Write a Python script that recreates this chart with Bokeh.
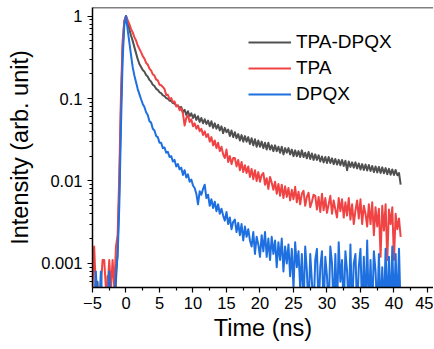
from bokeh.plotting import figure
from bokeh.models import (Range1d, FixedTicker, CustomJSTickFormatter, Legend,
                          LegendItem, Span)
from bokeh.embed import file_html
from bokeh.resources import INLINE

# time channels (ns), 0.25 ns spacing from -5 to 41
time_ns = [round(-5 + 0.25 * i, 2) for i in range(185)]

tpa_dpqx = [
    0.0002, 0.0002, 0.0002, 0.0006, 0.0002, 0.0002, 0.0005, 0.0002, 0.0002, 0.0007,
    0.0002, 0.0006, 0.0002, 0.0002, 0.0006, 0.0015, 0.008, 0.08, 0.42, 0.85,
    1.0,
    0.85, 0.69, 0.58, 0.50, 0.42, 0.355, 0.30, 0.262,
    0.241, 0.222, 0.212, 0.193, 0.184, 0.168, 0.160, 0.147,
    0.142, 0.131, 0.127, 0.119, 0.116, 0.109, 0.107, 0.101,
    0.0995, 0.094, 0.0935, 0.0880, 0.0870, 0.0820, 0.0812, 0.0768,
    0.079, 0.068, 0.073, 0.063, 0.070, 0.061, 0.066, 0.058,
    0.064, 0.055, 0.061, 0.052, 0.058, 0.050, 0.056, 0.049,
    0.054, 0.046, 0.053, 0.044, 0.050, 0.043, 0.048, 0.041,
    0.046, 0.038, 0.044, 0.039, 0.042, 0.035, 0.041, 0.034,
    0.039, 0.033, 0.037, 0.031, 0.036, 0.030, 0.035, 0.030,
    0.034, 0.028, 0.033, 0.027, 0.032, 0.026, 0.031, 0.026,
    0.030, 0.025, 0.029, 0.024, 0.029, 0.024, 0.027, 0.023,
    0.027, 0.023, 0.026, 0.022, 0.026, 0.021, 0.025, 0.022,
    0.025, 0.021, 0.024, 0.020, 0.0235, 0.020, 0.023, 0.0195,
    0.0235, 0.0195, 0.022, 0.0188, 0.0225, 0.0185, 0.0215, 0.018,
    0.021, 0.018, 0.0205, 0.0172, 0.0198, 0.0168, 0.0195, 0.0165,
    0.0195, 0.0165, 0.0188, 0.016, 0.0185, 0.0158, 0.018, 0.0155,
    0.018, 0.0152, 0.0176, 0.0135, 0.0172, 0.0148, 0.0168, 0.0145,
    0.0168, 0.0142, 0.0163, 0.0138, 0.016, 0.0136, 0.0158, 0.0134,
    0.0156, 0.0132, 0.0152, 0.0128, 0.015, 0.0127, 0.0148, 0.0125,
    0.0146, 0.0124, 0.0143, 0.0121, 0.014, 0.0119, 0.0138, 0.0118,
    0.0136, 0.0117, 0.0125, 0.0090,
]

tpa = [
    0.0005, 0.0016, 0.0005, 0.0005, 0.0005, 0.0005, 0.0011, 0.0011, 0.0005, 0.0005,
    0.0011, 0.0005, 0.0011, 0.0005, 0.0016, 0.0022, 0.012, 0.11, 0.5, 0.88,
    1.0,
    0.89, 0.80, 0.70, 0.635, 0.555, 0.505, 0.44, 0.40,
    0.365, 0.326, 0.305, 0.270, 0.258, 0.230, 0.219, 0.196,
    0.190, 0.170, 0.166, 0.147, 0.145, 0.138, 0.130, 0.110,
    0.111, 0.098, 0.101, 0.090, 0.092, 0.080, 0.083, 0.072,
    0.076, 0.066, 0.047, 0.058, 0.063, 0.052, 0.056, 0.046,
    0.050, 0.043, 0.047, 0.040, 0.043, 0.036, 0.040, 0.034,
    0.037, 0.030, 0.034, 0.027, 0.031, 0.025, 0.029, 0.023,
    0.026, 0.021, 0.019, 0.024, 0.017, 0.020, 0.016, 0.019,
    0.019, 0.015, 0.018, 0.0135, 0.017, 0.0128, 0.0155, 0.0125,
    0.0150, 0.0112, 0.0140, 0.0105, 0.0135, 0.0100, 0.0128, 0.0098,
    0.0118, 0.0125, 0.0090, 0.0108, 0.0080, 0.0112, 0.0095, 0.0078,
    0.0098, 0.0070, 0.0092, 0.0066, 0.0090, 0.0062, 0.0086, 0.0064,
    0.0082, 0.0058, 0.0078, 0.0060, 0.0085, 0.0055, 0.0074, 0.0052,
    0.0070, 0.0076, 0.0050, 0.0064, 0.0072, 0.0048, 0.0056, 0.0068,
    0.0066, 0.0045, 0.0064, 0.0042, 0.0070, 0.0044, 0.0062, 0.0041,
    0.0052, 0.0066, 0.0040, 0.0058, 0.0045, 0.0036, 0.0062, 0.0043,
    0.0060, 0.0036, 0.0055, 0.0038, 0.0062, 0.0034, 0.0052, 0.0030,
    0.0044, 0.0058, 0.0035, 0.0060, 0.0030, 0.0050, 0.0040, 0.0028,
    0.0052, 0.0030, 0.0055, 0.0022, 0.0048, 0.0028, 0.0046, 0.0012,
    0.0050, 0.0025, 0.0052, 0.0011, 0.0045, 0.0030, 0.0048, 0.0011,
    0.0040, 0.0026, 0.0035, 0.0021,
]

dpqx = [
    0.0003, 0.0003, 0.0008, 0.0003, 0.0003, 0.0008, 0.0003, 0.0003, 0.0003, 0.0003,
    0.0008, 0.0003, 0.0003, 0.0003, 0.0008, 0.0012, 0.005, 0.045, 0.3, 0.78,
    1.0,
    0.68, 0.48, 0.335, 0.24, 0.19, 0.157, 0.130, 0.113,
    0.098, 0.086, 0.079, 0.068, 0.063, 0.053, 0.051, 0.043,
    0.041, 0.035, 0.034, 0.029, 0.029, 0.025, 0.0255, 0.022,
    0.0225, 0.0195, 0.0200, 0.0172, 0.0180, 0.0150, 0.0160, 0.0138,
    0.0145, 0.0118, 0.0135, 0.0110, 0.0120, 0.0098, 0.0104, 0.0088,
    0.0082, 0.0070, 0.0052, 0.0075, 0.0068, 0.0080, 0.0090, 0.0062,
    0.0068, 0.0050, 0.0060, 0.0047, 0.0056, 0.0043, 0.0052, 0.0040,
    0.0046, 0.0038, 0.0033, 0.0042, 0.0030, 0.0036, 0.0026, 0.0032,
    0.0034, 0.0024, 0.0031, 0.0022, 0.0030, 0.0019, 0.0028, 0.0021,
    0.0026, 0.0019, 0.0016, 0.0024, 0.0013, 0.0021, 0.0017, 0.0012,
    0.0022, 0.0014, 0.0024, 0.0012, 0.0020, 0.0011, 0.0021, 0.0013,
    0.0019, 0.0009, 0.0018, 0.0011, 0.0020, 0.0008, 0.0016, 0.0010,
    0.0017, 0.0007, 0.0015, 0.0005, 0.0018, 0.0009, 0.0014, 0.0005,
    0.0013, 0.00026, 0.0016, 0.0008, 0.00026, 0.0013, 0.0006, 0.00026,
    0.0011, 0.0015, 0.00026, 0.0009, 0.0014, 0.00026, 0.0012, 0.0007,
    0.00026, 0.0016, 0.0010, 0.00026, 0.0013, 0.00026, 0.0018, 0.0006,
    0.0011, 0.00026, 0.0014, 0.0008, 0.00026, 0.0017, 0.00026, 0.0010,
    0.0013, 0.00026, 0.0009, 0.0015, 0.00026, 0.0012, 0.00026, 0.0019,
    0.00026, 0.0011, 0.00026, 0.0014, 0.0008, 0.00026, 0.0013, 0.00026,
    0.0009, 0.00026, 0.0015, 0.00026, 0.0012, 0.00026, 0.0016, 0.00026,
    0.0013, 0.00026, 0.0015, 0.00026,
]

series_names = ["TPA-DPQX", "TPA", "DPQX"]
series_colors = ["#505050", "#F04444", "#1E6FE0"]
x_ticks = [-5, 0, 5, 10, 15, 20, 25, 30, 35, 40, 45]
x_minor = [-2.5, 2.5, 7.5, 12.5, 17.5, 22.5, 27.5, 32.5, 37.5, 42.5]
y_ticks = [0.001, 0.01, 0.1, 1]
y_minor = [m * 10.0 ** e for e in range(-4, 1) for m in range(2, 10)]

FONT = "Liberation Sans"

p = figure(width=433, height=347, y_axis_type="log",
           x_range=Range1d(-5, 45.9), y_range=Range1d(0.00051, 1.27),
           output_backend="svg", toolbar_location=None,
           min_border_left=92, min_border_right=0, min_border_top=7,
           min_border_bottom=60)
p.outline_line_color = None
p.xgrid.visible = False
p.ygrid.visible = False
p.background_fill_color = "white"
p.border_fill_color = "white"

renderers = []
for ys, c in zip([tpa_dpqx, tpa, dpqx], series_colors):
    r = p.line(time_ns, ys, line_color=c, line_width=2, line_join="round")
    renderers.append(r)

# top border line of the frame
p.add_layout(Span(location=1.27, dimension="width", line_color="black",
                  line_width=1.5))

for ax in (p.xaxis[0], p.yaxis[0]):
    ax.axis_line_width = 1.5
    ax.axis_line_color = "black"
    ax.major_tick_line_width = 1.2
    ax.minor_tick_line_width = 1.2
    ax.major_tick_in = 0
    ax.major_tick_out = 5
    ax.minor_tick_in = 0
    ax.minor_tick_out = 3
    ax.major_label_text_font = FONT
    ax.major_label_text_font_size = "16.5px"
    ax.major_label_text_color = "black"
    ax.axis_label_text_font = FONT
    ax.axis_label_text_font_size = "23.5px"
    ax.axis_label_text_font_style = "normal"
    ax.axis_label_text_color = "black"

p.xaxis.ticker = FixedTicker(ticks=x_ticks, minor_ticks=x_minor)
p.yaxis.ticker = FixedTicker(ticks=y_ticks, minor_ticks=y_minor)
p.yaxis.formatter = CustomJSTickFormatter(code="return tick.toString();")
p.xaxis.major_label_standoff = 4
p.yaxis.major_label_standoff = 5
p.xaxis.axis_label = "Time (ns)"
p.yaxis.axis_label = "Intensity (arb. unit)"
p.xaxis.axis_label_standoff = 3
p.yaxis.axis_label_standoff = 5

legend = Legend(items=[LegendItem(label=n, renderers=[r])
                       for n, r in zip(series_names, renderers)],
                location=(156, 182), border_line_color=None,
                background_fill_alpha=0, padding=0, margin=0, spacing=4,
                glyph_width=43, glyph_height=20, label_height=20,
                label_standoff=5, label_text_font=FONT,
                label_text_font_size="19px", label_text_color="black")
p.add_layout(legend)

open("out.html", "w").write(file_html(p, INLINE))
